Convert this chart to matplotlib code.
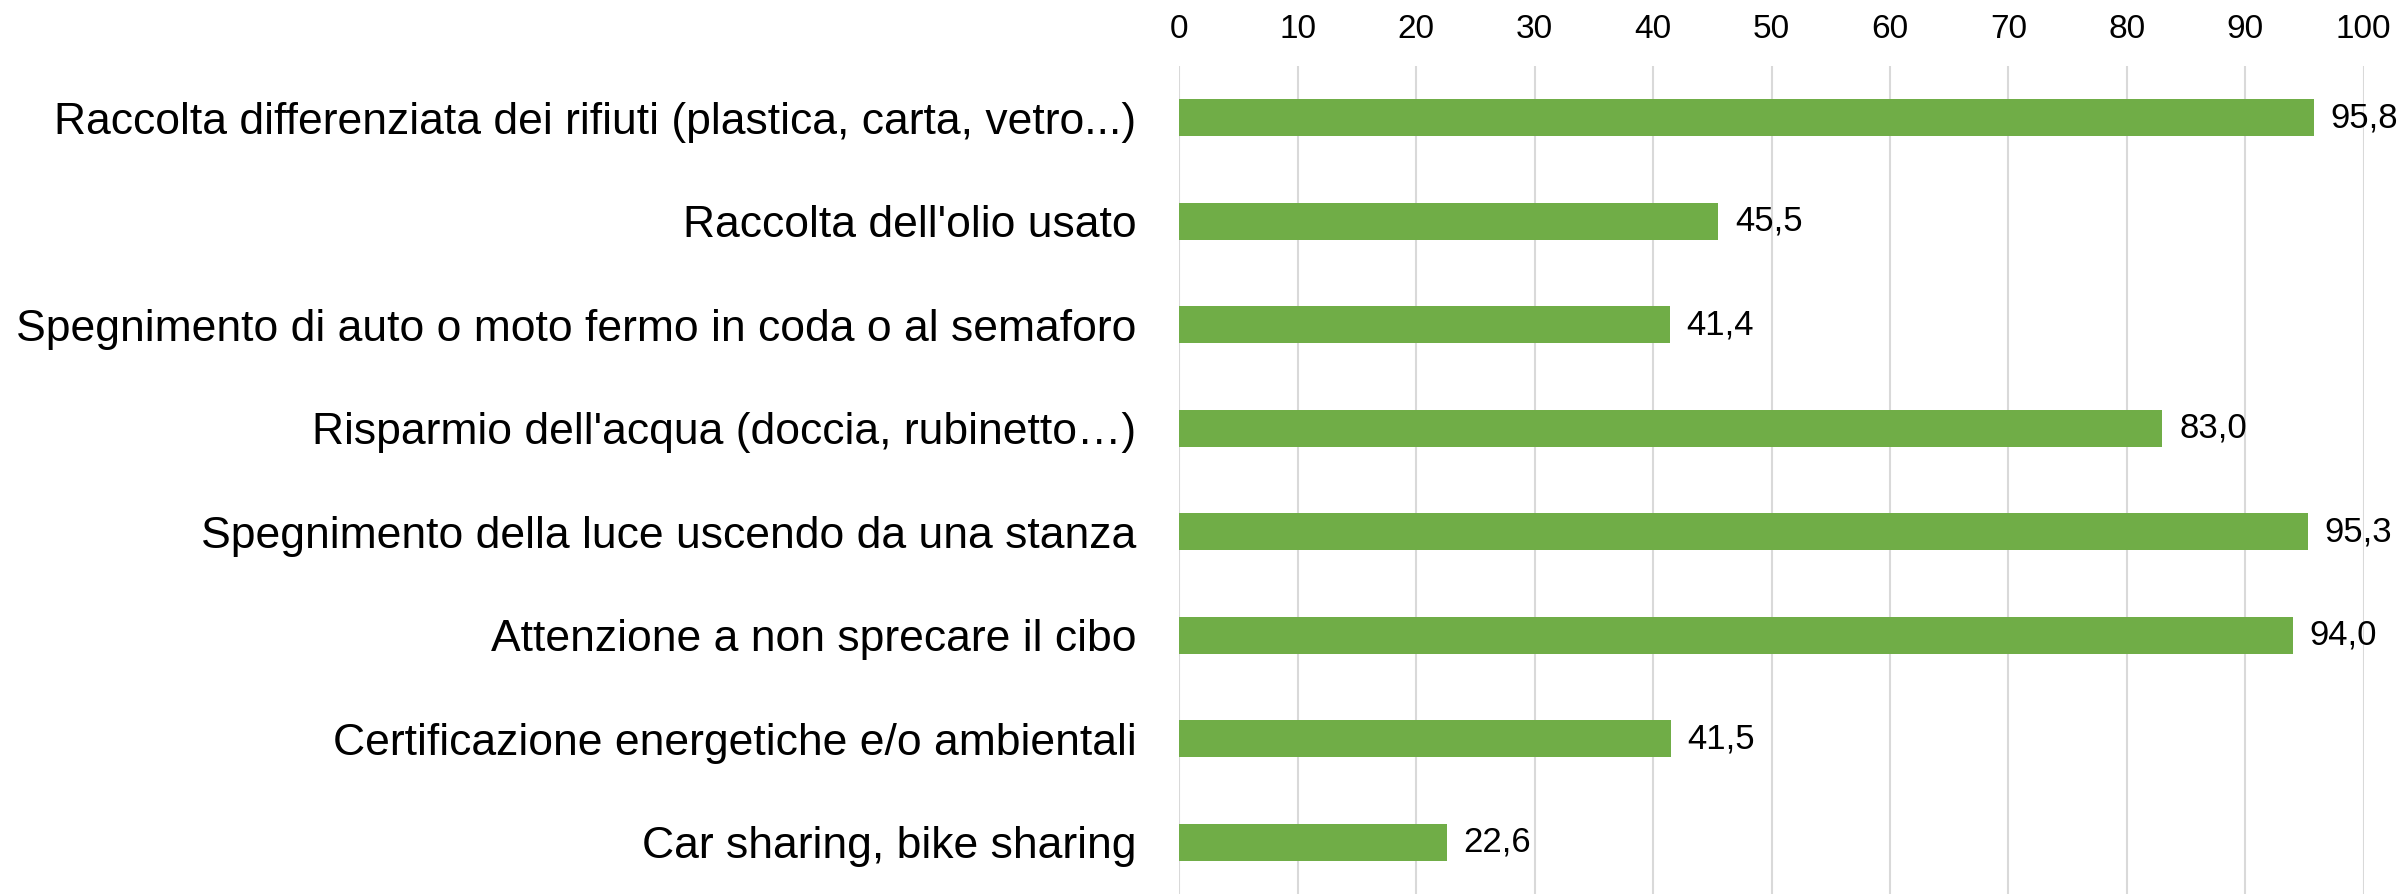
import matplotlib
matplotlib.use("Agg")
import matplotlib.pyplot as plt
import numpy as np

categories = [
    "Raccolta differenziata dei rifiuti (plastica, carta, vetro...)",
    "Raccolta dell'olio usato",
    "Spegnimento di auto o moto fermo in coda o al semaforo",
    "Risparmio dell'acqua (doccia, rubinetto…)",
    "Spegnimento della luce uscendo da una stanza",
    "Attenzione a non sprecare il cibo",
    "Certificazione energetiche e/o ambientali",
    "Car sharing, bike sharing",
]
values = [95.8, 45.5, 41.4, 83.0, 95.3, 94.0, 41.5, 22.6]
xticks = [0, 10, 20, 30, 40, 50, 60, 70, 80, 90, 100]

plt.rcParams['font.family'] = ['Liberation Sans', 'DejaVu Sans']

fig = plt.figure(figsize=(24.07, 8.94), dpi=100)
ax = fig.add_axes([0.490, 0.0, 0.492, 0.926])

y = np.arange(len(categories))
ax.barh(y, values, height=0.357, color="#70AD47", zorder=3)
ax.set_ylim(len(categories) - 0.5, -0.5)
ax.set_xlim(0, 100)
ax.set_yticks(y)
ax.set_yticklabels(categories, fontsize=32)
ax.set_xticks(xticks)
ax.set_xticklabels([str(t) for t in xticks], fontsize=24)
ax.xaxis.tick_top()
ax.tick_params(axis='x', length=0, pad=15)
ax.tick_params(axis='y', length=0, pad=31)
ax.grid(axis='x', color="#D9D9D9", linewidth=1.5, zorder=0)
ax.set_axisbelow(True)
for s in ax.spines.values():
    s.set_visible(False)

for yi, v in zip(y, values):
    ax.annotate(f"{v:.1f}".replace('.', ','), xy=(v, yi), xytext=(12, 0),
                textcoords='offset points', va='center', ha='left', fontsize=25)

fig.savefig("out.png", dpi=100)
